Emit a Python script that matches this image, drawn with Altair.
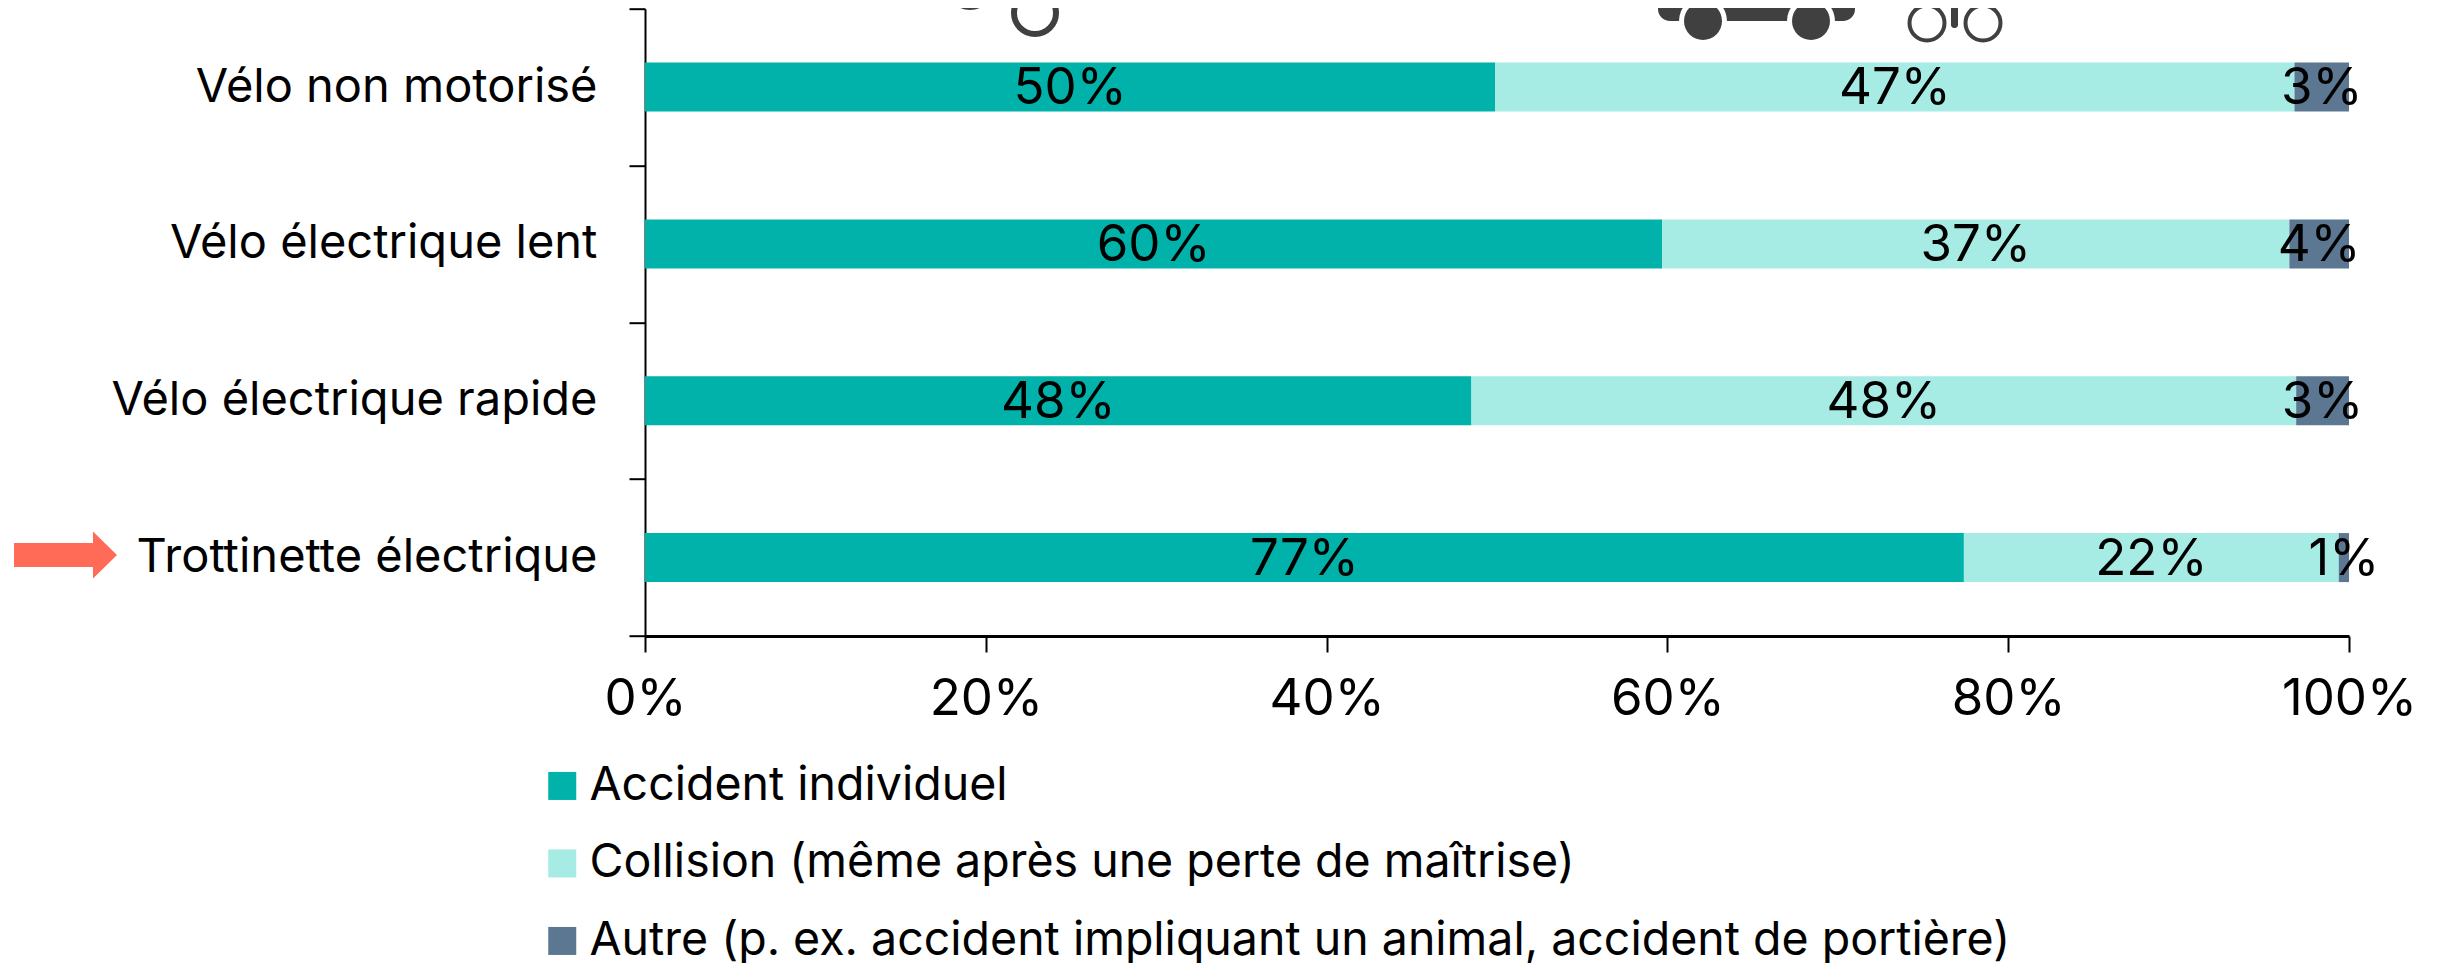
import altair as alt
import pandas as pd

FONT = "Inter"
FS_CAT = 47
FS_PCT = 51
FS_LEG = 46.5
categories = ["Vélo non motorisé", "Vélo électrique lent", "Vélo électrique rapide", "Trottinette électrique"]
series = ["Accident individuel", "Collision (même après une perte de maîtrise)",
          "Autre (p. ex. accident impliquant un animal, accident de portière)"]
colors = ["#00B2A9", "#A6ECE5", "#5B7791"]
individuel = [49.9, 59.7, 48.5, 77.4]
collision = [46.9, 36.8, 48.4, 22.0]
autre = [3.2, 3.5, 3.1, 0.6]
lab_individuel = ["50%", "60%", "48%", "77%"]
lab_collision = ["47%", "37%", "48%", "22%"]
lab_autre = ["3%", "4%", "3%", "1%"]
ticks = [0, 20, 40, 60, 80, 100]

rows = []
for i, c in enumerate(categories):
    s = 0
    for name, v, l in zip(series, [individuel[i], collision[i], autre[i]],
                          [lab_individuel[i], lab_collision[i], lab_autre[i]]):
        rows.append(dict(cat=c, serie=name, start=s, end=s + v, mid=s + v / 2, label=l))
        s += v
df = pd.DataFrame(rows)

y = alt.Y("cat:N", sort=categories, title=None,
          scale=alt.Scale(paddingInner=0, paddingOuter=0),
          axis=alt.Axis(tickBand="extent", tickSize=16, tickWidth=2, tickColor="#000",
                        domainColor="#000", domainWidth=2, labelFontSize=FS_CAT, labelFont=FONT,
                        labelColor="#000", labelPadding=32, labelLimit=700, grid=False))
x = alt.X("start:Q", title=None, scale=alt.Scale(domain=[0, 100], nice=False),
          axis=alt.Axis(values=ticks, labelExpr="datum.value + '%'", tickSize=16, tickWidth=2,
                        tickColor="#000", domainColor="#000", domainWidth=3, labelFontSize=FS_PCT,
                        labelFont=FONT, labelColor="#000", labelPadding=22, grid=False,
                        labelFlush=False, labelOverlap=False))

bars = alt.Chart(df).mark_bar(size=49).encode(
    x=x, x2="end:Q", y=y,
    color=alt.Color("serie:N", sort=series, scale=alt.Scale(domain=series, range=colors),
                    legend=alt.Legend(orient="none", legendX=-106, legendY=754, title=None,
                                      symbolType="square", symbolSize=784, symbolStrokeWidth=0,
                                      labelFontSize=FS_LEG, labelFont=FONT, labelColor="#000",
                                      labelLimit=1800, rowPadding=30.5, labelOffset=4,
                                      direction="vertical", columns=1)),
)
text = alt.Chart(df).mark_text(font=FONT, fontSize=FS_PCT, color="#000", baseline="middle", dy=2).encode(
    x=alt.X("mid:Q"), y=alt.Y("cat:N", sort=categories), text="label:N")

OX, OY = 645, 8.7
DARK = "#404040"


def circle(cx, cy, d, fill=None, stroke=None, sw=0):
    kw = dict(fill=fill or "transparent", strokeWidth=sw, opacity=1)
    if stroke:
        kw["stroke"] = stroke
    return alt.Chart(df.head(1)).mark_point(shape="circle", filled=False, **kw).encode(
        x=alt.value(cx - OX), y=alt.value(cy - OY), size=alt.value(d * d))


def box(x0, x1, y0, y1, fill, r=0):
    return alt.Chart(df.head(1)).mark_bar(color=fill, cornerRadius=r).encode(
        x=alt.value(x0 - OX), x2=alt.value(x1 - OX), y=alt.value(y0 - OY), y2=alt.value(y1 - OY))


arrow_path = "M-1,-0.233L0.534,-0.233L0.534,-0.456L1,0L0.534,0.456L0.534,0.233L-1,0.233Z"
arrow = alt.Chart(df.head(1)).mark_point(shape=arrow_path, filled=True, fill="#FF6B57", opacity=1, strokeWidth=0).encode(
    x=alt.value(65.5 - OX), y=alt.value(555 - OY), size=alt.value(103 * 103))

icons = [
    circle(1035, 13, 42, stroke=DARK, sw=6),
    circle(970, -14, 42, stroke=DARK, sw=6),
    box(1658, 1855, -20, 21, DARK, 12),
    circle(1703, 21, 48, fill="#fff"),
    circle(1811, 21, 48, fill="#fff"),
    circle(1703, 21, 38, fill=DARK),
    circle(1811, 21, 38, fill=DARK),
    circle(1927, 23, 35, stroke=DARK, sw=4),
    circle(1983, 23, 35, stroke=DARK, sw=4),
    box(1951, 1958, -5, 28, DARK, 3),
]

chart = alt.layer(bars, text, arrow, *icons).properties(
    width=1704, height=627.3,
    autosize=alt.AutoSizeParams(type="none"),
    padding={"left": 637, "top": 0.7, "right": 96, "bottom": 327},
).configure_view(stroke=None)

chart.save("out.html", embed_options={"renderer": "svg", "actions": False})
